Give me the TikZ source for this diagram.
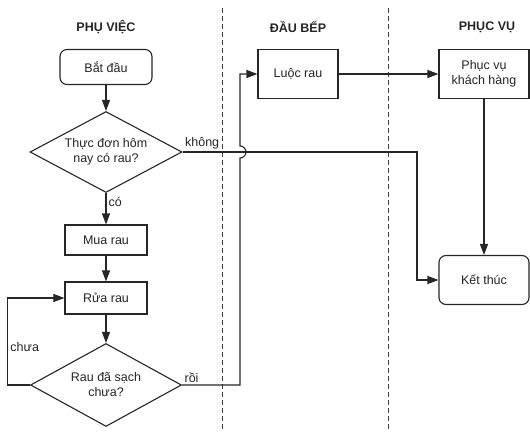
\documentclass[tikz,border=0pt]{standalone}
\usepackage{fontspec}
\setmainfont{Liberation Sans}
\usepackage{tikz}
\usetikzlibrary{shapes, arrows.meta, positioning}
\tikzstyle{block} = [draw, fill=white, rectangle, align=center, inner sep=2pt]
\tikzstyle{term} = [block, rounded corners=7pt]
\tikzstyle{decision} = [draw, fill=white, diamond, aspect=1.88, inner sep=0pt, align=center]
\tikzstyle{lane} = [font=\fontsize{12.5}{15}\selectfont\bfseries]
\tikzstyle{lbl} = [inner sep=2pt]

\begin{document}
\begin{tikzpicture}[auto, >={Triangle[length=11pt,width=8pt]}, line width=1.1pt, draw=black!85, text=black!85,
    font=\fontsize{12.5}{15}\selectfont]
  \useasboundingbox (-106pt,-364pt) rectangle (424pt,67pt);
  % lanes
  \draw [black!75, line width=1pt, dash pattern=on 5pt off 3pt] (116pt,59pt) -- (116pt,-364pt);
  \draw [black!75, line width=1pt, dash pattern=on 5pt off 3pt] (282pt,59pt) -- (282pt,-364pt);
  % helper column
  \node [term, minimum width=92pt, minimum height=35pt] (start) {Bắt đầu};
  \node [lane, above of=start, node distance=40pt] (h1) {PHỤ VIỆC};
  \node [decision, below of=start, node distance=85pt, minimum width=152pt, minimum height=81pt] (q1) {Thực đơn hôm\\nay có rau?};
  \node [block, below of=q1, node distance=88pt, minimum width=82pt, minimum height=30pt] (buy) {Mua rau};
  \node [block, below of=buy, node distance=58pt, minimum width=82pt, minimum height=32pt] (wash) {Rửa rau};
  \node [decision, below of=wash, node distance=87pt, minimum width=151pt, minimum height=83pt] (q2) {Rau đã sạch\\chưa?};
  % cook and waiter
  \node [block, right of=start, node distance=192pt, yshift=-7pt, minimum width=80pt, minimum height=49pt] (boil) {Luộc rau};
  \node [lane, above of=boil, node distance=47pt] (h2) {ĐẦU BẾP};
  \node [block, right of=boil, node distance=186pt, minimum width=90pt, minimum height=49pt] (serve) {Phục vụ\\khách hàng};
  \node [lane, above of=serve, node distance=47pt, xshift=3pt] (h3) {PHỤC VỤ};
  \node [term, below of=serve, node distance=206pt, minimum width=90pt, minimum height=49pt] (end) {Kết thúc};
  \coordinate [left of=end, node distance=67pt] (nj);
  \coordinate [left of=boil, node distance=58pt] (rj);
  \coordinate (jc) at (rj |- q1.east);
  \coordinate (lj) at ([xshift=-22pt]q2.west);
  \draw [->] (start) -- (q1);
  \draw [->] (q1) -- node [lbl, right, pos=0.28] {có} (buy);
  \draw [->] (buy) -- (wash);
  \draw [->] (wash) -- (q2);
  \draw [->] (q2.west) -- (lj) |- node [lbl, right, pos=0.22] {chưa} (wash.west);
  \draw [->] (q2.east) node [lbl, above right] {rồi} -| ([yshift=-6pt]jc)
    arc [start angle=-90, end angle=90, radius=6pt] -- (rj) -- (boil.west);
  \draw [->] (q1.east) node [lbl, above right] {không} -| (nj) -- (end.west);
  \draw [->] (boil) -- (serve);
  \draw [->] (serve) -- (end);
\end{tikzpicture}
\end{document}
